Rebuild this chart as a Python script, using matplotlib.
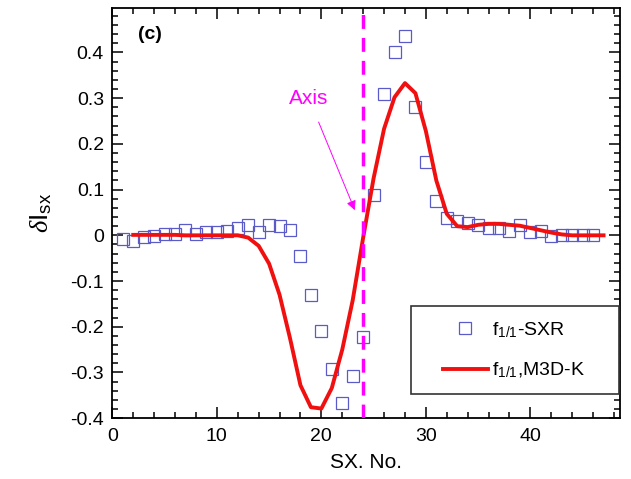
import numpy as np
import matplotlib.pyplot as plt
from matplotlib.ticker import MultipleLocator
from matplotlib.patches import Rectangle

plt.rcParams['font.family'] = ['Liberation Sans', 'DejaVu Sans']
plt.rcParams['mathtext.fontset'] = 'custom'
plt.rcParams['mathtext.rm'] = 'Liberation Sans'
plt.rcParams['mathtext.it'] = 'Liberation Serif:italic'

# measured SXR (squares)
sxr_x = list(range(1, 47))
sxr_y = [-0.009, -0.013, -0.004, -0.001, 0.002, 0.002, 0.011, 0.003, 0.007, 0.007,
         0.009, 0.015, 0.023, 0.007, 0.023, 0.020, 0.011, -0.045, -0.130, -0.209,
         -0.293, -0.366, -0.308, -0.222, 0.089, 0.309, 0.400, 0.435, 0.280, 0.161,
         0.076, 0.038, 0.031, 0.026, 0.023, 0.015, 0.015, 0.009, 0.023, 0.007,
         0.009, -0.001, 0.001, 0.001, 0.001, 0.001]

# M3D-K simulation (red line)
m3d_x = list(range(2, 48))
m3d_y = [0.001, 0.001, 0.001, 0.001, 0.001, 0.0, 0.0, 0.0, 0.0, 0.0, 0.0,
         -0.005, -0.023, -0.062, -0.13, -0.225, -0.328, -0.376, -0.379, -0.334,
         -0.25, -0.142, -0.005, 0.125, 0.233, 0.302, 0.333, 0.311, 0.228, 0.12,
         0.047, 0.02, 0.018, 0.023, 0.025, 0.025, 0.023, 0.021, 0.016, 0.011,
         0.006, 0.002, 0.0, 0.0, 0.0, 0.0]

axis_pos = 24

fig = plt.figure(figsize=(6.31, 4.79), dpi=100)
ax = fig.add_axes([0.178, 0.127, 0.805, 0.856])

ax.plot(sxr_x, sxr_y, 's', ms=8.5, mfc='none', mec='#5a5ac8', mew=0.9,
        label=r'f$_{1/1}$-SXR', zorder=3)
ax.plot(m3d_x, m3d_y, '-', color='#f01010', lw=2.8,
        label=r'f$_{1/1}$,M3D-K', zorder=4)
ax.axvline(axis_pos, color='#ff00ff', lw=2.5, dashes=(4, 2.6), zorder=5)

ax.annotate('Axis', xy=(23.2, 0.055), xytext=(18.8, 0.30),
            color='#ff00ff', fontsize=15, ha='center', va='center',
            arrowprops=dict(arrowstyle='-|>', color='#ff00ff', lw=0.7,
                            mutation_scale=14, shrinkA=9, shrinkB=0))

ax.text(3.6, 0.44, '(c)', fontsize=14, fontweight='bold', ha='center', va='center')

ax.set_xlim(0, 48.6)
ax.set_ylim(-0.4, 0.497)
ax.set_yticks(np.round(np.arange(-0.4, 0.41, 0.1), 1))
ax.set_yticklabels(['-0.4', '-0.3', '-0.2', '-0.1', '0', '0.1', '0.2', '0.3', '0.4'])
ax.xaxis.set_major_locator(MultipleLocator(10))
ax.xaxis.set_minor_locator(MultipleLocator(2))
ax.yaxis.set_minor_locator(MultipleLocator(0.02))
ax.tick_params(which='both', direction='in', top=True, right=True,
               labelsize=14, width=1.1)
ax.tick_params(which='major', length=8)
ax.tick_params(axis='x', pad=7)
ax.tick_params(axis='y', pad=6)
ax.tick_params(which='minor', length=4)
for s in ax.spines.values():
    s.set_linewidth(1.3)

ax.set_xlabel('SX. No.', fontsize=15, labelpad=6)
ax.set_ylabel(r'$\it{\delta}$I$_{\rm sx}$', fontsize=19, labelpad=12)

# legend frame drawn separately so it can be sized like the original
ax.add_patch(Rectangle((0.588, 0.058), 0.41, 0.215, transform=ax.transAxes,
                       fill=True, fc='white', ec='#333333', lw=1.2, zorder=6))
leg = ax.legend(loc='center left', bbox_to_anchor=(0.651, 0.166), fontsize=14,
                frameon=False, borderpad=0, borderaxespad=0,
                handlelength=2.3, labelspacing=1.1, handletextpad=0.2)
leg.set_zorder(7)

fig.savefig('out.png', dpi=100)
